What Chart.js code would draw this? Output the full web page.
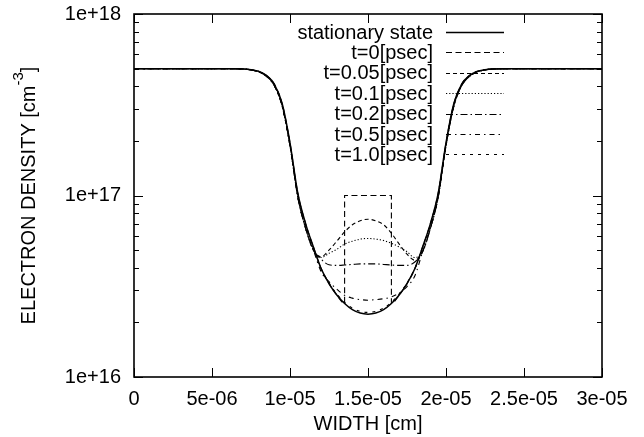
<!DOCTYPE html>
<html>
<head>
<meta charset="utf-8">
<script src="https://cdn.jsdelivr.net/npm/chart.js@4.4.1/dist/chart.umd.min.js"></script>
<style>
  html, body { margin: 0; padding: 0; background: #fff; }
  #c { display: block; }
</style>
</head>
<body>
<canvas id="c" width="644" height="437"></canvas>
<script>
// width positions [cm] shared by most curves
const widthCm = [0, 3e-6, 6e-6, 7e-6, 7.5e-6, 8e-6, 8.5e-6, 9e-6, 9.5e-6, 10e-6, 10.5e-6, 11e-6, 11.5e-6,
  12e-6, 12.5e-6, 13e-6, 13.5e-6, 14e-6, 14.5e-6, 15e-6, 15.5e-6, 16e-6, 16.5e-6, 17e-6, 17.5e-6, 18e-6,
  18.5e-6, 19e-6, 19.5e-6, 20e-6, 20.5e-6, 21e-6, 21.5e-6, 22e-6, 22.5e-6, 23e-6, 24e-6, 27e-6, 30e-6];

// electron density [cm^-3]
const stationary = [5.0e17, 5.0e17, 5.0e17, 4.98e17, 4.93e17, 4.83e17, 4.58e17, 4.1e17, 3.2e17, 1.95e17, 1.03e17, 7.0e16, 5.2e16,
  3.95e16, 3.27e16, 2.83e16, 2.54e16, 2.35e16, 2.25e16, 2.22e16, 2.25e16, 2.35e16, 2.54e16, 2.83e16, 3.27e16, 3.95e16,
  5.2e16, 7.0e16, 1.03e17, 1.95e17, 3.2e17, 4.1e17, 4.58e17, 4.83e17, 4.93e17, 4.98e17, 5.0e17, 5.0e17, 5.0e17];

// t=0 has the square pulse, so it gets its own x positions
const tZeroWidth = [0, 3e-6, 6e-6, 7e-6, 7.5e-6, 8e-6, 8.5e-6, 9e-6, 9.5e-6, 10e-6, 10.5e-6, 11e-6, 11.5e-6,
  12e-6, 12.5e-6, 13e-6, 13.5e-6, 13.5e-6, 14e-6, 14.5e-6, 15e-6, 15.5e-6, 16e-6, 16.5e-6, 16.5e-6, 17e-6, 17.5e-6, 18e-6,
  18.5e-6, 19e-6, 19.5e-6, 20e-6, 20.5e-6, 21e-6, 21.5e-6, 22e-6, 22.5e-6, 23e-6, 24e-6, 27e-6, 30e-6];
const tZero = [5.0e17, 5.0e17, 5.0e17, 4.98e17, 4.93e17, 4.83e17, 4.58e17, 4.1e17, 3.2e17, 1.95e17, 1.03e17, 7.0e16, 5.2e16,
  3.95e16, 3.27e16, 2.83e16, 2.54e16, 1e17, 1e17, 1e17, 1e17, 1e17, 1e17, 1e17, 2.54e16, 2.83e16, 3.27e16, 3.95e16,
  5.2e16, 7.0e16, 1.03e17, 1.95e17, 3.2e17, 4.1e17, 4.58e17, 4.83e17, 4.93e17, 4.98e17, 5.0e17, 5.0e17, 5.0e17];

const t005 = [5.0e17, 5.0e17, 5.0e17, 4.98e17, 4.92e17, 4.8e17, 4.53e17, 4.02e17, 3.1e17, 1.88e17, 9.8e16, 6.6e16, 5.0e16,
  4.6e16, 5.0e16, 5.6e16, 6.3e16, 6.9e16, 7.25e16, 7.4e16, 7.25e16, 6.9e16, 6.2e16, 5.4e16, 4.75e16, 4.4e16,
  4.9e16, 6.6e16, 9.8e16, 1.88e17, 3.1e17, 4.02e17, 4.53e17, 4.8e17, 4.92e17, 4.98e17, 5.0e17, 5.0e17, 5.0e17];

const t01 = [5.0e17, 5.0e17, 5.0e17, 4.98e17, 4.92e17, 4.8e17, 4.53e17, 4.02e17, 3.1e17, 1.88e17, 9.8e16, 6.6e16, 5.0e16,
  4.55e16, 4.8e16, 5.05e16, 5.4e16, 5.6e16, 5.75e16, 5.8e16, 5.75e16, 5.65e16, 5.45e16, 5.2e16, 4.9e16, 4.55e16,
  4.9e16, 6.6e16, 9.8e16, 1.88e17, 3.1e17, 4.02e17, 4.53e17, 4.8e17, 4.92e17, 4.98e17, 5.0e17, 5.0e17, 5.0e17];

const t02 = [5.0e17, 5.0e17, 5.0e17, 4.98e17, 4.92e17, 4.8e17, 4.53e17, 4.02e17, 3.1e17, 1.88e17, 9.8e16, 6.6e16, 5.0e16,
  4.45e16, 4.15e16, 4.12e16, 4.14e16, 4.17e16, 4.2e16, 4.2e16, 4.2e16, 4.17e16, 4.14e16, 4.12e16, 4.12e16, 4.3e16,
  4.9e16, 6.6e16, 9.8e16, 1.88e17, 3.1e17, 4.02e17, 4.53e17, 4.8e17, 4.92e17, 4.98e17, 5.0e17, 5.0e17, 5.0e17];

const t05 = [5.0e17, 5.0e17, 5.0e17, 4.98e17, 4.92e17, 4.8e17, 4.53e17, 4.02e17, 3.1e17, 1.88e17, 9.8e16, 6.6e16, 5.0e16,
  3.8e16, 3.35e16, 3.05e16, 2.82e16, 2.72e16, 2.67e16, 2.65e16, 2.67e16, 2.7e16, 2.76e16, 2.9e16, 3.15e16, 3.6e16,
  4.9e16, 6.6e16, 9.8e16, 1.88e17, 3.1e17, 4.02e17, 4.53e17, 4.8e17, 4.92e17, 4.98e17, 5.0e17, 5.0e17, 5.0e17];

const t10 = [5.0e17, 5.0e17, 5.0e17, 4.98e17, 4.93e17, 4.82e17, 4.56e17, 4.07e17, 3.15e17, 1.92e17, 1.01e17, 6.85e16, 5.1e16,
  3.95e16, 3.3e16, 2.87e16, 2.58e16, 2.4e16, 2.3e16, 2.27e16, 2.3e16, 2.4e16, 2.58e16, 2.87e16, 3.3e16, 3.95e16,
  5.1e16, 6.85e16, 1.01e17, 1.92e17, 3.15e17, 4.07e17, 4.56e17, 4.82e17, 4.93e17, 4.98e17, 5.0e17, 5.0e17, 5.0e17];

const seriesLabels = ['stationary state', 't=0[psec]', 't=0.05[psec]', 't=0.1[psec]', 't=0.2[psec]', 't=0.5[psec]', 't=1.0[psec]'];

const xTicks = [0, 5e-6, 1e-5, 1.5e-5, 2e-5, 2.5e-5, 3e-5];
const xTickLabels = ['0', '5e-06', '1e-05', '1.5e-05', '2e-05', '2.5e-05', '3e-05'];
const yMajor = [1e16, 1e17, 1e18];
const yTickLabels = ['1e+16', '1e+17', '1e+18'];
const yMinorSteps = [2, 3, 4, 5, 6, 7, 8, 9];

const FONT = "'Liberation Sans', Arial, Helvetica, sans-serif";

function pts(xs, ys) {
  return xs.map((x, i) => ({ x: x, y: ys[i] }));
}

let yTickValues = [];
yMajor.forEach((d, i) => {
  yTickValues.push(d);
  if (i < yMajor.length - 1) yMinorSteps.forEach(m => yTickValues.push(m * d));
});

function line(label, data, dash, w, order) {
  return {
    label: label, data: data, borderColor: '#000', borderWidth: w, borderDash: dash,
    pointRadius: 0, fill: false, cubicInterpolationMode: 'monotone', order: order
  };
}

const datasets = [
  line(seriesLabels[0], pts(widthCm, stationary), [], 1.5, 0),
  line(seriesLabels[1], pts(tZeroWidth, tZero), [6, 3.5], 1.1, 1),
  line(seriesLabels[2], pts(widthCm, t005), [4, 3], 1.1, 1),
  line(seriesLabels[3], pts(widthCm, t01), [1.2, 2], 1.1, 1),
  line(seriesLabels[4], pts(widthCm, t02), [7, 3, 1.5, 3], 1.1, 1),
  line(seriesLabels[5], pts(widthCm, t05), [5, 4, 1.5, 4], 1.1, 1),
  line(seriesLabels[6], pts(widthCm, t10), [3, 5], 1.1, 1)
];

// gnuplot style box, inward ticks, key and axis titles
const gnuplotLook = {
  id: 'gnuplotLook',
  afterDraw(chart) {
    const ctx = chart.ctx;
    const a = chart.chartArea;
    const sx = chart.scales.x, sy = chart.scales.y;
    ctx.save();
    ctx.strokeStyle = '#000';
    ctx.lineWidth = 1;
    ctx.setLineDash([]);
    ctx.beginPath();
    sx.ticks.forEach(t => {
      const px = Math.round(sx.getPixelForValue(t.value)) + 0.5;
      ctx.moveTo(px, a.bottom); ctx.lineTo(px, a.bottom - 9);
      ctx.moveTo(px, a.top); ctx.lineTo(px, a.top + 9);
    });
    sy.ticks.forEach(t => {
      const py = Math.round(sy.getPixelForValue(t.value)) + 0.5;
      const len = yMajor.includes(t.value) ? 9 : 5;
      ctx.moveTo(a.left, py); ctx.lineTo(a.left + len, py);
      ctx.moveTo(a.right, py); ctx.lineTo(a.right - len, py);
    });
    ctx.stroke();
    ctx.lineWidth = 1.6;
    ctx.strokeRect(a.left, a.top, a.right - a.left, a.bottom - a.top);

    // key
    ctx.font = '20px ' + FONT;
    ctx.fillStyle = '#000';
    ctx.textAlign = 'right';
    ctx.textBaseline = 'alphabetic';
    chart.data.datasets.forEach((ds, i) => {
      const ry = 32 + i * 20.4;
      ctx.fillText(ds.label, 433, ry + 6.5);
      ctx.lineWidth = ds.borderWidth;
      ctx.setLineDash(ds.borderDash);
      ctx.beginPath();
      ctx.moveTo(446, Math.round(ry) + 0.5);
      ctx.lineTo(504, Math.round(ry) + 0.5);
      ctx.stroke();
    });
    ctx.setLineDash([]);

    // x title
    ctx.textAlign = 'center';
    ctx.fillText('WIDTH [cm]', (a.left + a.right) / 2, 430);

    // y title with superscript
    const main = 'ELECTRON DENSITY [cm';
    const sup = '-3';
    const tail = ']';
    ctx.font = '20px ' + FONT;
    const wMain = ctx.measureText(main).width;
    const wTail = ctx.measureText(tail).width;
    ctx.font = '15px ' + FONT;
    const wSup = ctx.measureText(sup).width;
    const total = wMain + wSup + wTail;
    ctx.translate(35, (a.top + a.bottom) / 2);
    ctx.rotate(-Math.PI / 2);
    ctx.textAlign = 'left';
    let x0 = -total / 2;
    ctx.font = '20px ' + FONT;
    ctx.fillText(main, x0, 0);
    ctx.font = '15px ' + FONT;
    ctx.fillText(sup, x0 + wMain, -12);
    ctx.font = '20px ' + FONT;
    ctx.fillText(tail, x0 + wMain + wSup, 0);
    ctx.restore();
  }
};

new Chart(document.getElementById('c'), {
  type: 'line',
  data: { datasets: datasets },
  plugins: [gnuplotLook],
  options: {
    responsive: false,
    animation: false,
    devicePixelRatio: 1,
    layout: { padding: { left: 0, right: 42, top: 14, bottom: 0 } },
    plugins: { legend: { display: false }, tooltip: { enabled: false } },
    scales: {
      x: {
        type: 'linear', min: 0, max: 3e-5,
        grid: { display: false, drawTicks: false },
        border: { display: false },
        afterFit: s => { s.height = 60; s.paddingLeft = 0; s.paddingRight = 0; },
        afterBuildTicks: s => { s.ticks = xTicks.map(v => ({ value: v })); },
        ticks: {
          autoSkip: false, maxRotation: 0, padding: 10, color: '#000',
          font: { family: FONT, size: 20 },
          callback: v => { const i = xTicks.indexOf(v); return i >= 0 ? xTickLabels[i] : ''; }
        }
      },
      y: {
        type: 'logarithmic', min: 1e16, max: 1e18,
        grid: { display: false, drawTicks: false },
        border: { display: false },
        afterFit: s => { s.width = 134; s.paddingTop = 0; s.paddingBottom = 0; },
        afterBuildTicks: s => { s.ticks = yTickValues.map(v => ({ value: v })); },
        ticks: {
          autoSkip: false, padding: 13, color: '#000',
          font: { family: FONT, size: 20 },
          callback: v => { const i = yMajor.indexOf(v); return i >= 0 ? yTickLabels[i] : ''; }
        }
      }
    }
  }
});
</script>
</body>
</html>
